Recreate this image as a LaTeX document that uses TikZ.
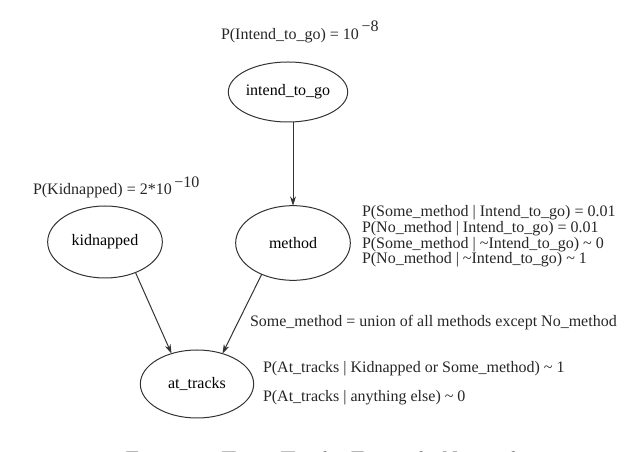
\documentclass[tikz,border=0pt]{standalone}
\usepackage{fontspec}
\newfontfamily\tnr{Liberation Serif}
\usetikzlibrary{shapes.geometric,arrows.meta}
\begin{document}
\begin{tikzpicture}[x=0.75pt,y=-0.75pt,
  every node/.style={inner sep=0pt,outer sep=0pt},
  bnode/.style={ellipse,draw=black!80,line width=0.75pt,font=\tnr\fontsize{12}{14}\selectfont},
  note/.style={anchor=base west,font=\tnr\fontsize{12}{14}\selectfont,text=black!85},
  arr/.style={draw=black!80,line width=0.75pt,-{Stealth[length=7pt,width=4.5pt]}}]
\useasboundingbox (0,0) rectangle (640,452);
% nodes
\node[bnode,minimum width=82pt,minimum height=45pt] (intend) at (288,92) {intend\_to\_go};
\node[bnode,minimum width=86pt,minimum height=54pt] (kid) at (105,242) {kidnapped};
\node[bnode,minimum width=86pt,minimum height=56pt] (method) at (293,243) {method};
\node[bnode,minimum width=85pt,minimum height=51pt] (at) at (197,384) {at\_tracks};
% connectors
\draw[arr] (intend.south -| method.north) -- (method.north);
\draw[arr] (kid.-45) -- (at.130);
\draw[arr] (method.-135) -- (at.50);
% annotations
\node[note] (pint) at (221,40) {P(Intend\_to\_go) = 10\,\raisebox{6pt}{−8}};
\node[note] (pkid) at (33,195) {P(Kidnapped) = 2*10\,\raisebox{5.5pt}{−10}};
\node[note,align=left,font=\tnr\fontsize{12}{9.9}\selectfont] (mnote) at (362,264)
  {P(Some\_method | Intend\_to\_go) = 0.01\\
   P(No\_method | Intend\_to\_go) = 0.01\\
   P(Some\_method | \textasciitilde Intend\_to\_go) \textasciitilde{} 0\\
   P(No\_method | \textasciitilde Intend\_to\_go) \textasciitilde{} 1};
\node[note] (some) at (250,327) {Some\_method = union of all methods except No\_method};
\node[note] (a1) at (263,373) {P(At\_tracks | Kidnapped or Some\_method) \textasciitilde{} 1};
\node[note] (a2) at (263,402) {P(At\_tracks | anything else) \textasciitilde{} 0};
% caption (cut off at the lower edge)
\node[anchor=base west,font=\fontsize{18}{20}\selectfont,text=black!85] (cap) at (125,469) {Figure 1: Train Tracks Example Network};
\end{tikzpicture}
\end{document}
